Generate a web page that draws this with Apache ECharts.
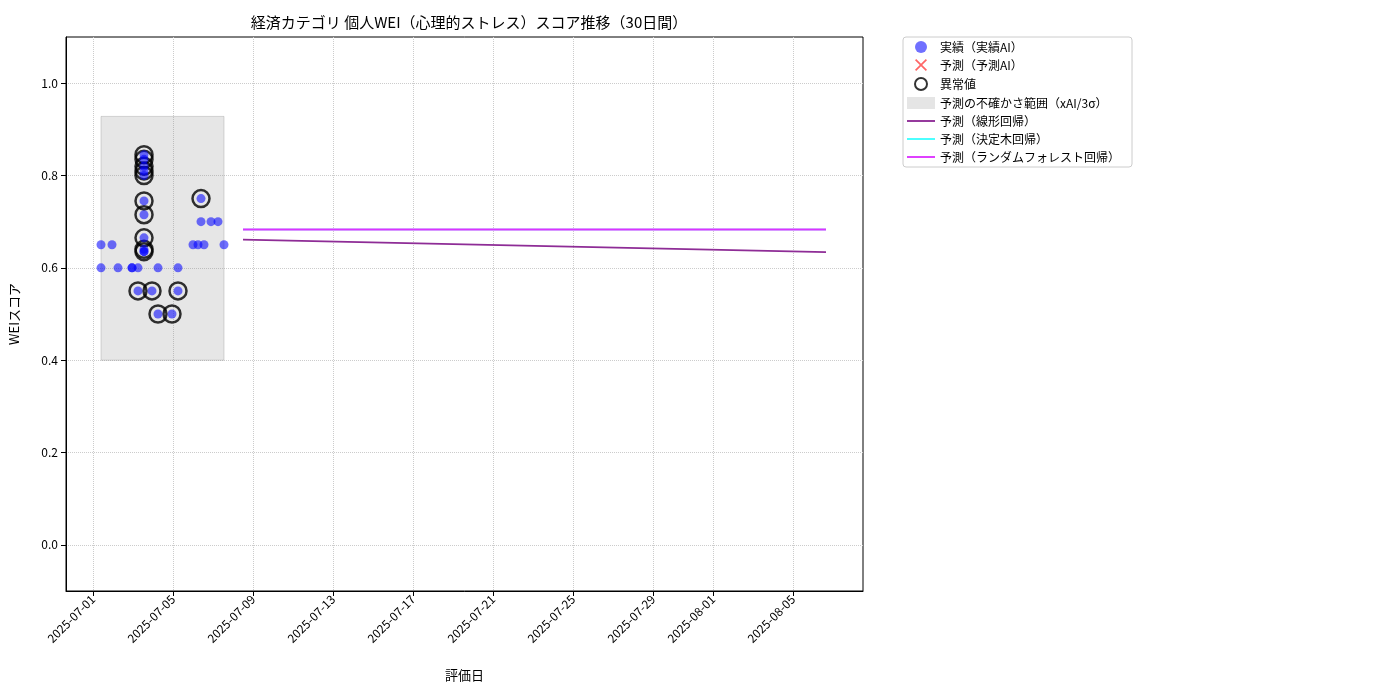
<!DOCTYPE html>
<html><head><meta charset="utf-8">
<script src="https://cdn.jsdelivr.net/npm/echarts@6/dist/echarts.min.js"></script>
<style>body{margin:0}#c{width:1400px;height:700px}</style></head>
<body><div id="c"></div>
<script>
// days after 2025-07-01
const actualDays = [0.4,0.95,1.95,2.55,5.25,5.55,6.55,5.0, 0.4,1.25,1.95,2.25,3.25,4.25, 5.4,5.9,6.25, 5.4, 2.25,2.95,4.25,3.25,3.95, 2.55,2.55,2.55,2.55,2.55,2.55,2.55,2.55,2.55,2.55];
const actualVals = [0.65,0.65,0.6,0.635,0.65,0.65,0.65,0.65, 0.6,0.6,0.6,0.6,0.6,0.6, 0.7,0.7,0.7, 0.75, 0.55,0.55,0.55,0.5,0.5, 0.845,0.835,0.82,0.81,0.80,0.745,0.715,0.665,0.64,0.635];
const anomalyDays = [5.4,2.25,2.95,4.25,3.25,3.95,2.55,2.55,2.55,2.55,2.55,2.55,2.55,2.55,2.55,2.55];
const anomalyVals = [0.75,0.55,0.55,0.55,0.5,0.5,0.845,0.835,0.82,0.81,0.80,0.745,0.715,0.665,0.64,0.635];
const bandX = [0.4,6.55]; const bandY = [0.4,0.928];
const linDays = [7.5,36.65]; const linVals = [0.661,0.634];
const rfVals = [0.683,0.683];
const dtVals = [0.683,0.683];
const tickDays = [0,4,8,12,16,20,24,28,31,35];
const tickLabels = ['2025-07-01','2025-07-05','2025-07-09','2025-07-13','2025-07-17','2025-07-21','2025-07-25','2025-07-29','2025-08-01','2025-08-05'];
const yTicks = [0,0.2,0.4,0.6,0.8,1.0];

const pair=(xs,ys)=>xs.map((x,i)=>[x,ys[i]]);
const F='"Noto Sans CJK JP"';
const ch=echarts.init(document.getElementById('c'));
ch.setOption({
 textStyle:{fontFamily:F,color:'#000'},
 title:{text:'経済カテゴリ 個人WEI（心理的ストレス）スコア推移（30日間）',left:464,top:10,textAlign:'center',textStyle:{fontSize:15,fontWeight:'normal',fontFamily:F,color:'#000'}},
 grid:{left:66,top:37,width:797,height:554,show:true,borderColor:'#000',borderWidth:1,backgroundColor:'transparent'},
 xAxis:{type:'value',min:-1.35,max:38.5,name:'評価日',nameLocation:'middle',nameGap:78,nameTextStyle:{fontSize:13,color:'#000'},
  axisLine:{onZero:false,lineStyle:{color:'#000'}},axisTick:{customValues:tickDays,lineStyle:{color:'#000'}},
  axisLabel:{customValues:tickDays,rotate:45,fontSize:12,color:'#000',margin:6,formatter:v=>tickLabels[tickDays.indexOf(Math.round(v))]||''},
  splitLine:{show:true,lineStyle:{type:'dotted',color:'#ccc'}}},
 yAxis:{type:'value',min:-0.1,max:1.1,name:'WEIスコア',nameLocation:'middle',nameGap:45,nameTextStyle:{fontSize:13,color:'#000'},
  axisLine:{show:true,onZero:false,lineStyle:{color:'#000'}},axisTick:{show:true,customValues:yTicks,lineStyle:{color:'#000'}},
  axisLabel:{customValues:yTicks,fontSize:12,color:'#000',formatter:v=>v.toFixed(1)},
  splitLine:{show:true,lineStyle:{type:'dotted',color:'#ccc'}}},
 legend:{orient:'vertical',left:903,top:37,itemGap:6,itemWidth:28,itemHeight:12,padding:[4,12,4,4],borderColor:'#ccc',borderWidth:1,borderRadius:3,
  textStyle:{fontSize:12,fontFamily:F,color:'#000'},
  data:[{name:'実績（実績AI）',icon:'circle'},{name:'予測（予測AI）',icon:'path://M1,0L5,4L9,0L10,1L6,5L10,9L9,10L5,6L1,10L0,9L4,5L0,1Z'},{name:'異常値',icon:'circle'},{name:'予測の不確かさ範囲（xAI/3σ）',icon:'rect'},
   {name:'予測（線形回帰）',icon:'path://M0,0H30V2H0Z'},{name:'予測（決定木回帰）',icon:'path://M0,0H30V2H0Z'},{name:'予測（ランダムフォレスト回帰）',icon:'path://M0,0H30V2H0Z'}]},
 series:[
  {name:'予測の不確かさ範囲（xAI/3σ）',type:'line',data:[],itemStyle:{color:'rgba(150,150,150,0.25)'},
   markArea:{silent:true,itemStyle:{color:'rgba(128,128,128,0.2)',borderColor:'rgba(128,128,128,0.3)',borderWidth:1},data:[[{coord:[bandX[0],bandY[0]]},{coord:[bandX[1],bandY[1]]}]]}},
  {name:'予測（線形回帰）',type:'line',data:pair(linDays,linVals),symbol:'none',lineStyle:{color:'#8e2c96',width:1.8},itemStyle:{color:'#8e2c96'}},
  {name:'予測（決定木回帰）',type:'line',data:pair(linDays,dtVals),symbol:'none',z:1,lineStyle:{color:'#40ffff',width:1.5},itemStyle:{color:'#40ffff'}},
  {name:'予測（ランダムフォレスト回帰）',type:'line',data:pair(linDays,rfVals),symbol:'none',z:3,lineStyle:{color:'#dd33ff',width:2},itemStyle:{color:'#dd33ff'}},
  {name:'予測（予測AI）',type:'scatter',data:[],itemStyle:{color:'#ff4040'}},
  {name:'異常値',type:'scatter',data:pair(anomalyDays,anomalyVals),symbolSize:17,itemStyle:{color:'rgba(0,0,0,0)',borderColor:'#000',borderWidth:2.5},z:3},
  {name:'実績（実績AI）',type:'scatter',data:pair(actualDays,actualVals),symbolSize:9,itemStyle:{color:'rgba(0,0,255,0.7)'},z:4}
 ]
});
</script></body></html>
